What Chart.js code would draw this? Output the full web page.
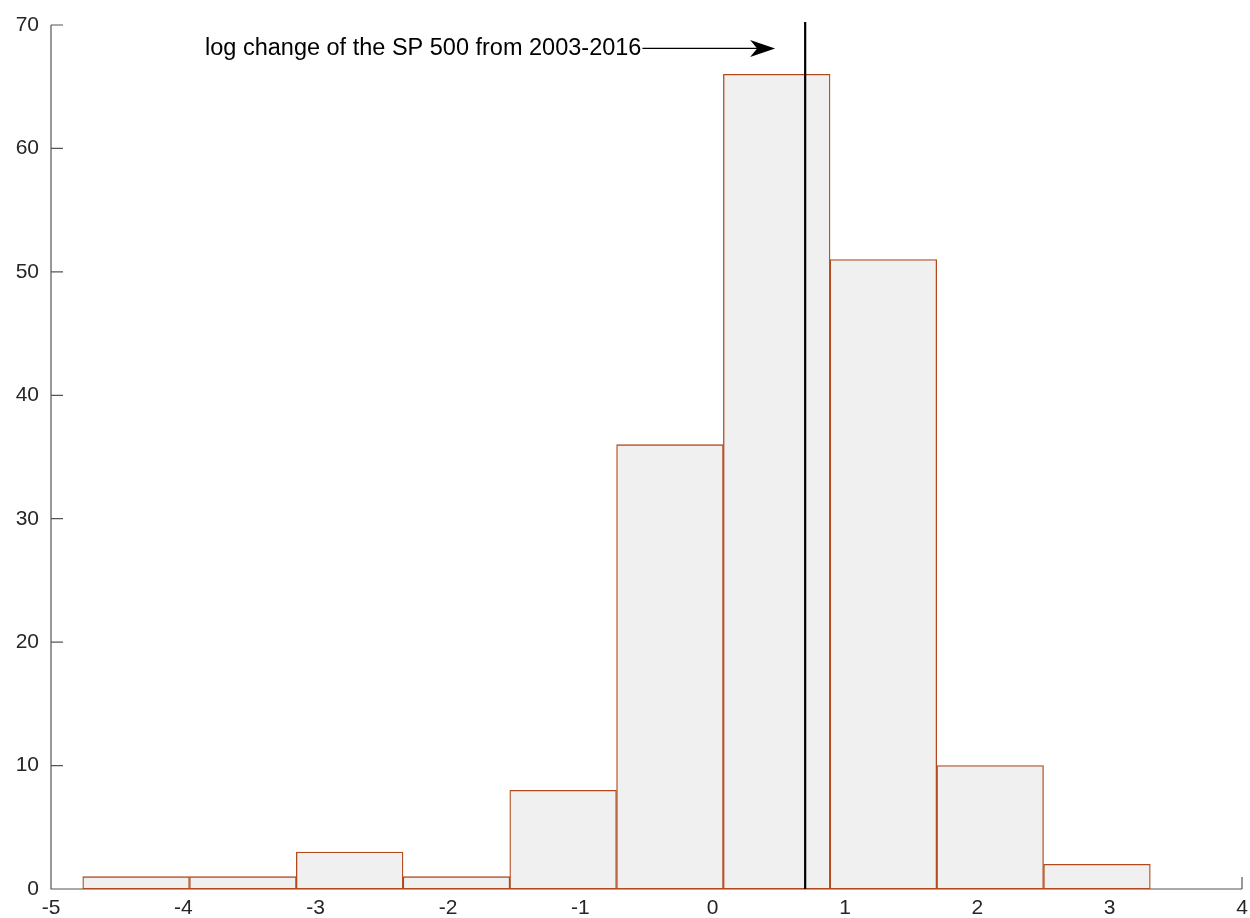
<!DOCTYPE html>
<html>
<head>
<meta charset="utf-8">
<script src="https://cdn.jsdelivr.net/npm/chart.js@4"></script>
<style>
html,body{margin:0;padding:0;background:#fff;}
#wrap{width:1250px;height:918px;position:relative;}
</style>
</head>
<body>
<div id="wrap"><canvas id="c" width="1250" height="918"></canvas></div>
<script>
// Histogram data
const binCenters = [-4.357, -3.550, -2.743, -1.936, -1.130, -0.323, 0.484, 1.290, 2.097, 2.904];
const counts = [1, 1, 3, 1, 8, 36, 66, 51, 10, 2];
const xTicks = [-5, -4, -3, -2, -1, 0, 1, 2, 3, 4];
const yTicks = [0, 10, 20, 30, 40, 50, 60, 70];
const markerX = 0.699;
const annotationText = "log change of the SP 500 from 2003-2016";

const FONT = "'Liberation Sans', Arial, Helvetica, sans-serif";

const axesAndNote = {
  id: 'axesAndNote',
  beforeDatasetsDraw(chart) {
    const ctx = chart.ctx;
    const xs = chart.scales.x, ys = chart.scales.y;
    const area = chart.chartArea;
    ctx.save();
    ctx.strokeStyle = '#555555';
    ctx.lineWidth = 1.2;
    ctx.beginPath();
    ctx.moveTo(area.left, ys.getPixelForValue(70));
    ctx.lineTo(area.left, area.bottom);
    ctx.lineTo(xs.getPixelForValue(4), area.bottom);
    yTicks.forEach(v => {
      const py = ys.getPixelForValue(v);
      ctx.moveTo(area.left, py);
      ctx.lineTo(area.left + 12, py);
    });
    xTicks.forEach(v => {
      const px = xs.getPixelForValue(v);
      ctx.moveTo(px, area.bottom);
      ctx.lineTo(px, area.bottom - 12);
    });
    ctx.stroke();
    ctx.restore();
  },
  afterDraw(chart) {
    const ctx = chart.ctx;
    const xs = chart.scales.x, ys = chart.scales.y;
    ctx.save();
    const ty = ys.getPixelForValue(68.1);
    const textX = xs.getPixelForValue(-3.836);
    ctx.font = '23.5px ' + FONT;
    ctx.fillStyle = '#000';
    ctx.textBaseline = 'middle';
    ctx.textAlign = 'left';
    ctx.fillText(annotationText, textX, ty);
    const tw = ctx.measureText(annotationText).width;
    const ax0 = textX + tw + 1;
    const ax1 = xs.getPixelForValue(0.472);
    ctx.strokeStyle = '#000';
    ctx.lineWidth = 1.2;
    ctx.beginPath();
    ctx.moveTo(ax0, ty);
    ctx.lineTo(ax1 - 8, ty);
    ctx.stroke();
    ctx.beginPath();
    ctx.moveTo(ax1, ty);
    ctx.lineTo(ax1 - 25, ty - 8.5);
    ctx.lineTo(ax1 - 18, ty);
    ctx.lineTo(ax1 - 25, ty + 8.5);
    ctx.closePath();
    ctx.fillStyle = '#000';
    ctx.fill();
    ctx.restore();
  }
};

new Chart(document.getElementById('c'), {
  data: {
    datasets: [
      {
        type: 'bar',
        data: binCenters.map((x, i) => ({x: x, y: counts[i]})),
        backgroundColor: '#f0f0f0',
        borderColor: '#b04a1c',
        borderWidth: 1.3,
        borderSkipped: false,
        barPercentage: 1,
        categoryPercentage: 1,
        grouped: false,
        order: 2
      },
      {
        type: 'line',
        data: [{x: markerX, y: 0}, {x: markerX, y: 70.25}],
        borderColor: '#000',
        borderWidth: 2.2,
        pointRadius: 0,
        clip: false,
        order: 1
      }
    ]
  },
  options: {
    responsive: false,
    animation: false,
    events: [],
    layout: {padding: {top: 25, right: 8, left: 0, bottom: 0}},
    plugins: {legend: {display: false}, tooltip: {enabled: false}},
    scales: {
      x: {
        type: 'linear',
        offset: false,
        min: -5, max: 4,
        afterBuildTicks: s => { s.ticks = xTicks.map(v => ({value: v})); },
        afterFit: s => { s.height = 29; s.paddingLeft = 0; s.paddingRight = 0; },
        border: {display: false},
        grid: {display: false, drawTicks: false, offset: false},
        ticks: {color: '#262626', font: {family: FONT, size: 21}, padding: 7, maxRotation: 0, autoSkip: false}
      },
      y: {
        type: 'linear',
        min: 0, max: 70,
        afterBuildTicks: s => { s.ticks = yTicks.map(v => ({value: v})); },
        afterFit: s => { s.width = 51; },
        border: {display: false},
        grid: {display: false, drawTicks: false},
        ticks: {color: '#262626', font: {family: FONT, size: 21}, padding: 12}
      }
    }
  },
  plugins: [axesAndNote]
});
</script>
</body>
</html>
